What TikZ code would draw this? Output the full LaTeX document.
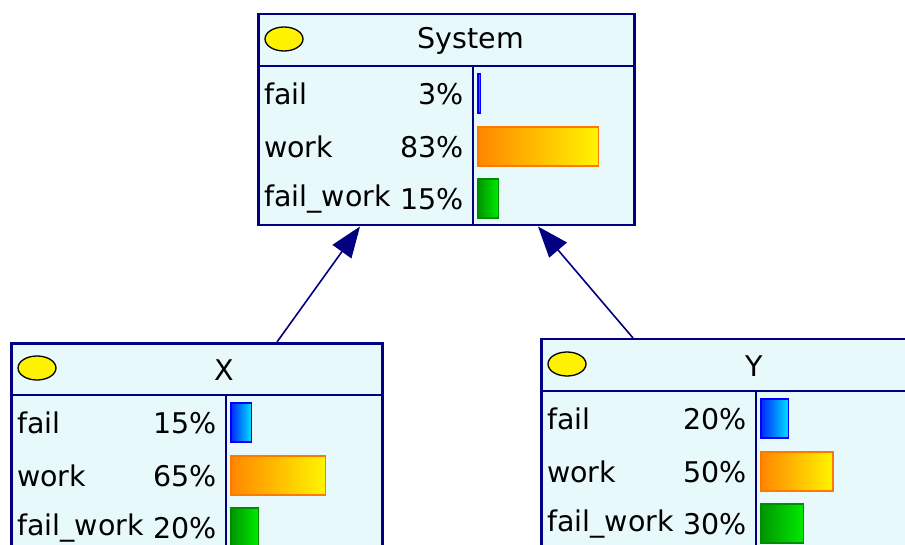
\documentclass[tikz,border=0pt]{standalone}
\usepackage{fontspec}
\setmainfont{DejaVu Sans}
\usepackage{xcolor}
\usetikzlibrary{arrows.meta}
\usetikzlibrary{shapes.geometric}
\definecolor{netblue}{RGB}{0,0,128}
\definecolor{boxfill}{RGB}{232,249,252}
\tikzset{
	netbox/.style={draw=netblue, line width=2.5pt, fill=boxfill, minimum height=211pt, anchor=north west, inner sep=0pt},
	divider/.style={draw=netblue, line width=2.5pt},
	statemark/.style={ellipse, draw=black, line width=1.3pt, fill=yellow, minimum width=38pt, minimum height=24pt, inner sep=0pt},
	rowtext/.style={font=\fontsize{28.5}{33}\selectfont, inner sep=0pt},
	barfail/.style={draw={rgb,255:red,0;green,0;blue,255}, line width=1.3pt, left color={rgb,255:red,0;green,40;blue,255}, right color={rgb,255:red,0;green,225;blue,255}},
	barwork/.style={draw={rgb,255:red,255;green,120;blue,0}, line width=1.3pt, left color={rgb,255:red,255;green,135;blue,0}, right color={rgb,255:red,255;green,245;blue,0}},
	barboth/.style={draw={rgb,255:red,0;green,140;blue,0}, line width=1.3pt, left color={rgb,255:red,0;green,150;blue,0}, right color={rgb,255:red,0;green,235;blue,0}},
	link/.style={draw=netblue, line width=1.6pt, -{Triangle[length=31pt,width=23pt]}}
}

\begin{document}
\begin{tikzpicture}[x=1pt, y=-1pt]
	\clip (0,0) rectangle (905,545);
	\fill[white] (0,0) rectangle (905,545);
	\foreach \nm/\boxx/\boxy/\boxw/\ttl/\pa/\pb/\pc in {sys/257/13/376/System/3/83/15, xnode/10/342/371/X/15/65/20, ynode/540/338/376/Y/20/50/30}{
		\node[netbox, minimum width=\boxw pt] (\nm) at (\boxx,\boxy) {};
		\begin{scope}[shift={(\nm.north west)}]
			\draw[divider] (0,53) -- (\boxw,53);
			\draw[divider] (216,53) -- (216,211);
			\node[statemark] (\nm-state) at (27,26) {};
			\node[rowtext] (\nm-title) at (214,28) {\ttl};
			\foreach \r/\ry/\lab/\pv/\bsty in {1/81/fail/\pa/barfail, 2/134/work/\pb/barwork, 3/186/fail\_work/\pc/barboth}{
				\node[rowtext, anchor=west] (\nm-lab\r) at (7,\ry) {\lab};
				\node[rowtext, anchor=east] (\nm-val\r) at (207,\ry) {\pv\%};
				\draw[\bsty] (221,\ry-20) rectangle (219+1.48*\pv,\ry+19);
			}
		\end{scope}
	}
	\draw[link] ([xshift=267pt]xnode.north west) -- ([xshift=103pt]sys.south west);
	\draw[link] ([xshift=93pt]ynode.north west) -- ([xshift=281pt]sys.south west);
\end{tikzpicture}
\end{document}
